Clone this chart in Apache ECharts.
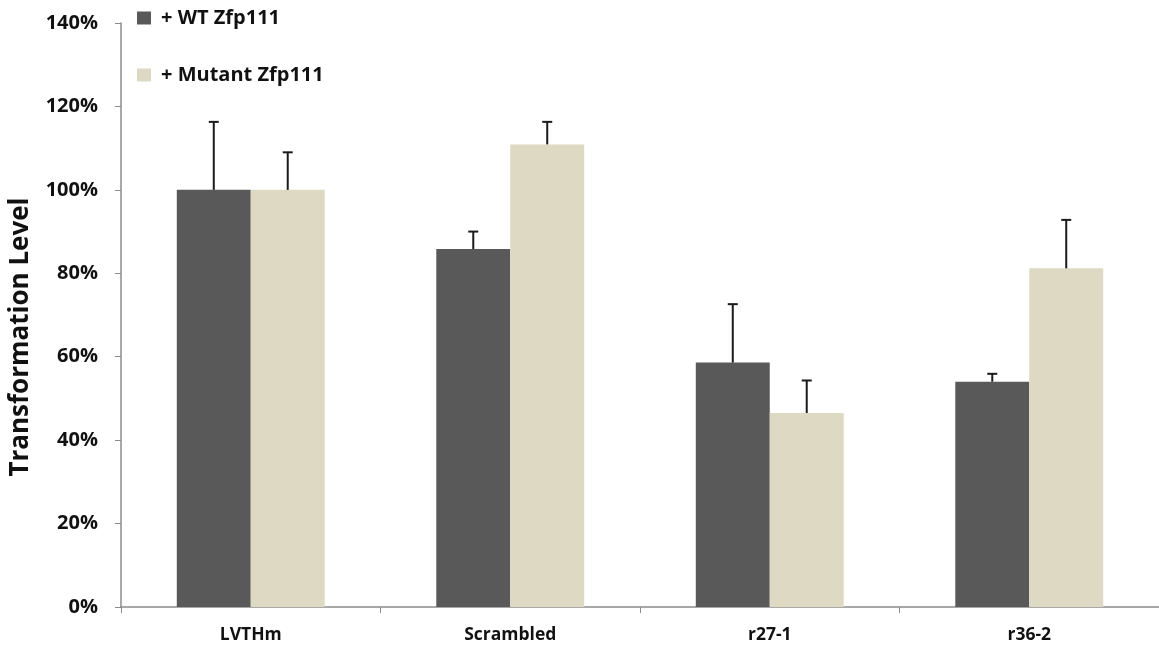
<!DOCTYPE html>
<html>
<head>
<meta charset="utf-8">
<script src="https://cdn.jsdelivr.net/npm/echarts@6/dist/echarts.min.js"></script>
<style>
  html, body { margin: 0; padding: 0; background: #ffffff; }
  #chart { width: 1159px; height: 649px; }
</style>
</head>
<body>
<div id="chart"></div>
<script>
// Transformation level per construct, as a percentage of LVTHm
const categories = ['LVTHm', 'Scrambled', 'r27-1', 'r36-2'];
const wtValues = [100, 85.8, 58.6, 54.0];
const wtErrTop = [116.3, 90.0, 72.6, 55.9];
const mutValues = [100, 110.9, 46.5, 81.2];
const mutErrTop = [109.0, 116.3, 54.3, 92.8];
const yTicks = [0, 20, 40, 60, 80, 100, 120, 140];

const BAR_FRACTION = 0.285; // share of a category band taken by one bar
const FONT = '"Open Sans", Lato, sans-serif';

// Upper error whisker for one series; side = -1 (left bar) or +1 (right bar)
function errorSeries(name, values, tops, side) {
  const data = categories.map((c, i) => [i, values[i], tops[i]]);
  return {
    type: 'custom',
    name: name + ' error',
    z: 5,
    silent: true,
    data: data,
    renderItem: function (params, api) {
      const idx = api.value(0);
      const base = api.coord([idx, api.value(1)]);
      const top = api.coord([idx, api.value(2)]);
      const band = api.size([1, 0])[0];
      const x = base[0] + side * band * BAR_FRACTION / 2;
      const cap = 5;
      const style = { stroke: '#1a1a1a', lineWidth: 2 };
      return {
        type: 'group',
        children: [
          { type: 'line', shape: { x1: x, y1: base[1], x2: x, y2: top[1] }, style: style },
          { type: 'line', shape: { x1: x - cap, y1: top[1], x2: x + cap, y2: top[1] }, style: style }
        ]
      };
    }
  };
}

const chart = echarts.init(document.getElementById('chart'), null, { renderer: 'canvas' });
chart.setOption({
  animation: false,
  backgroundColor: '#ffffff',
  grid: { left: 120, right: 0, top: 23, bottom: 42, containLabel: false },
  legend: {
    orient: 'vertical',
    left: 137,
    top: 6,
    padding: 0,
    itemWidth: 14,
    itemHeight: 13,
    itemGap: 33,
    icon: 'rect',
    data: ['+ WT Zfp111', '+ Mutant Zfp111'],
    textStyle: {
      fontFamily: FONT, fontWeight: 'bold', fontSize: 20, color: '#111',
      lineHeight: 24, padding: [0, 0, 0, 5]
    }
  },
  xAxis: {
    type: 'category',
    data: categories,
    boundaryGap: true,
    axisLine: { lineStyle: { color: '#8c8c8c', width: 1.5 } },
    axisTick: { show: true, length: 6, lineStyle: { color: '#8c8c8c' } },
    axisLabel: { margin: 19, fontFamily: FONT, fontWeight: 'bold', fontSize: 17.5, color: '#111' }
  },
  yAxis: {
    type: 'value',
    min: yTicks[0],
    max: yTicks[yTicks.length - 1],
    interval: 20,
    name: 'Transformation Level',
    nameLocation: 'middle',
    nameGap: 87,
    nameTextStyle: {
      fontFamily: FONT, fontWeight: 'bold', fontSize: 26, color: '#111',
      padding: [0, 44, 0, 0]
    },
    axisLine: { show: true, lineStyle: { color: '#8c8c8c', width: 1.5 } },
    axisTick: { show: true, length: 6, lineStyle: { color: '#8c8c8c' } },
    splitLine: { show: false },
    axisLabel: {
      margin: 23,
      fontFamily: FONT, fontWeight: 'bold', fontSize: 20, color: '#111',
      formatter: v => v + '%'
    }
  },
  series: [
    {
      name: '+ WT Zfp111',
      type: 'bar',
      data: wtValues,
      barWidth: (BAR_FRACTION * 100) + '%',
      barGap: '0%',
      itemStyle: { color: '#595959' }
    },
    {
      name: '+ Mutant Zfp111',
      type: 'bar',
      data: mutValues,
      barWidth: (BAR_FRACTION * 100) + '%',
      barGap: '0%',
      itemStyle: { color: '#ddd9c3' }
    },
    errorSeries('+ WT Zfp111', wtValues, wtErrTop, -1),
    errorSeries('+ Mutant Zfp111', mutValues, mutErrTop, 1)
  ]
});
</script>
</body>
</html>
